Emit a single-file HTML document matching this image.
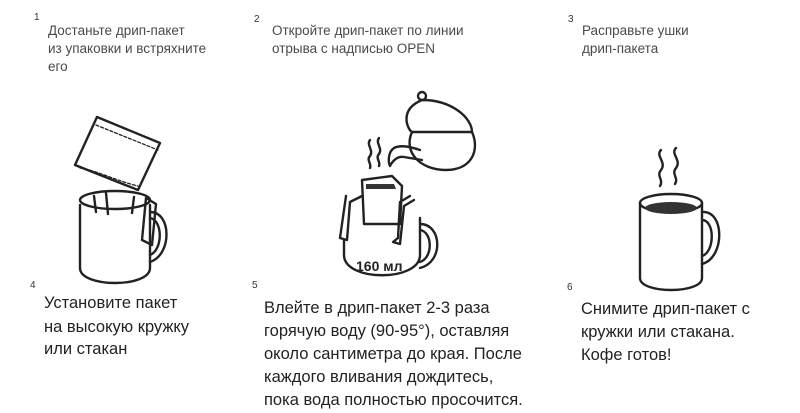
<!DOCTYPE html>
<html><head><meta charset="utf-8"><style>
html,body{margin:0;padding:0;background:#fff;}
svg{display:block;}
.s{font-family:"Liberation Sans","DejaVu Sans",sans-serif;fill:#4a4a4a;font-size:13.5px;}
.n{font-family:"Liberation Sans",sans-serif;fill:#333;font-size:10px;}
.b{font-family:"Liberation Sans","DejaVu Sans",sans-serif;fill:#222;font-size:16.5px;}
.l{fill:none;stroke:#222;stroke-width:2.4;stroke-linecap:round;stroke-linejoin:round;}
</style></head><body>
<svg width="800" height="413" viewBox="0 0 800 413" xmlns="http://www.w3.org/2000/svg">
<text class="n" x="34" y="20">1</text>
<text class="s" x="48" y="35">Достаньте дрип-пакет</text>
<text class="s" x="48" y="53">из упаковки и  встряхните</text>
<text class="s" x="48" y="71">его</text>
<text class="n" x="254" y="22">2</text>
<text class="s" x="272" y="35">Откройте дрип-пакет по линии</text>
<text class="s" x="272" y="53">отрыва с надписью OPEN</text>
<text class="n" x="568" y="22">3</text>
<text class="s" x="582" y="35">Расправьте ушки</text>
<text class="s" x="582" y="53">дрип-пакета</text>

<!-- mug 1 -->
<g class="l">
<path d="M97,117 L160,143 L138,190 L75,165 Z"/>
<path d="M96,125 L158,150" stroke-dasharray="3,2" stroke-width="1.3"/>
<path d="M80,168 C95,170 120,182 138,186" stroke-dasharray="3,2" stroke-width="1.3"/>
<path d="M80,205 L80,268 C80,288 150,288 150,268 L150,205"/>
<ellipse cx="115" cy="200" rx="35" ry="9"/>
<path d="M94,196 L96,212 M106,193 L108,214 M134,197 L132,213"/>
<path d="M146,198 L156,204 L152,245 L142,240 Z"/>
<path d="M150,212 C172,212 172,255 150,262"/>
<path d="M150,218 C163,220 163,250 150,255"/>
</g>

<!-- step 2 -->
<g class="l">
<path d="M370,140 C366,145 374,150 370,156 C366,160 372,164 370,168"/>
<path d="M379,138 C375,143 383,148 379,154 C375,158 381,162 379,166"/>
<circle cx="422" cy="96" r="4"/>
<path d="M422,100 C398,110 408,130 412,132 L472,132 C472,118 452,100 422,100"/>
<path d="M412,132 C403,152 420,170 446,170 C472,170 480,150 472,132"/>
<path d="M420,150 C408,146 400,145 394,148 C388,152 388,162 390,166 C393,160 398,156 404,157 L422,160"/>
<path d="M362,180 L392,176 L402,186 L400,224 L364,224 Z"/>
<path d="M346,196 L340,238 L347,240 L350,202 L362,196"/>
<path d="M410,196 L400,202 L398,238 L393,242 L400,244 L404,206 L414,200"/>
<path d="M344,240 L344,255 C344,282 420,282 420,255 L420,218"/>
<path d="M420,224 C442,224 444,262 420,268"/>
<path d="M420,230 C433,232 433,258 420,262"/>
</g>
<path d="M366,184 L394,184 L396,189 L366,189 Z" fill="#333"/>
<text x="356" y="271" font-family="Liberation Sans,DejaVu Sans,sans-serif" font-size="14" font-weight="bold" fill="#222">160 мл</text>

<!-- mug 3 -->
<g class="l">
<path d="M661,150 C655,156 667,162 661,170 C656,176 664,180 660,186"/>
<path d="M676,148 C670,154 682,160 676,168 C671,174 679,178 675,184"/>
<ellipse cx="671" cy="203" rx="31" ry="9"/>
<path d="M640,203 L640,278 C640,294 702,294 702,278 L702,203"/>
<path d="M702,212 C725,210 725,258 702,264"/>
<path d="M702,220 C715,220 715,252 702,256"/>
</g>
<ellipse cx="671" cy="208" rx="26" ry="6" fill="#333"/>

<text class="n" x="30" y="288">4</text>
<text class="b" x="44" y="308">Установите пакет</text>
<text class="b" x="44" y="332">на высокую кружку</text>
<text class="b" x="44" y="354">или стакан</text>
<text class="n" x="252" y="288">5</text>
<text class="b" x="264" y="313">Влейте в дрип-пакет 2-3 раза</text>
<text class="b" x="264" y="336">горячую воду (90-95°), оставляя</text>
<text class="b" x="264" y="359">около сантиметра до края. После</text>
<text class="b" x="264" y="382">каждого вливания дождитесь,</text>
<text class="b" x="264" y="405">пока вода полностью просочится.</text>
<text class="n" x="567" y="290">6</text>
<text class="b" x="581" y="314">Снимите дрип-пакет с</text>
<text class="b" x="581" y="337">кружки или стакана.</text>
<text class="b" x="581" y="360">Кофе готов!</text>
</svg>
</body></html>
